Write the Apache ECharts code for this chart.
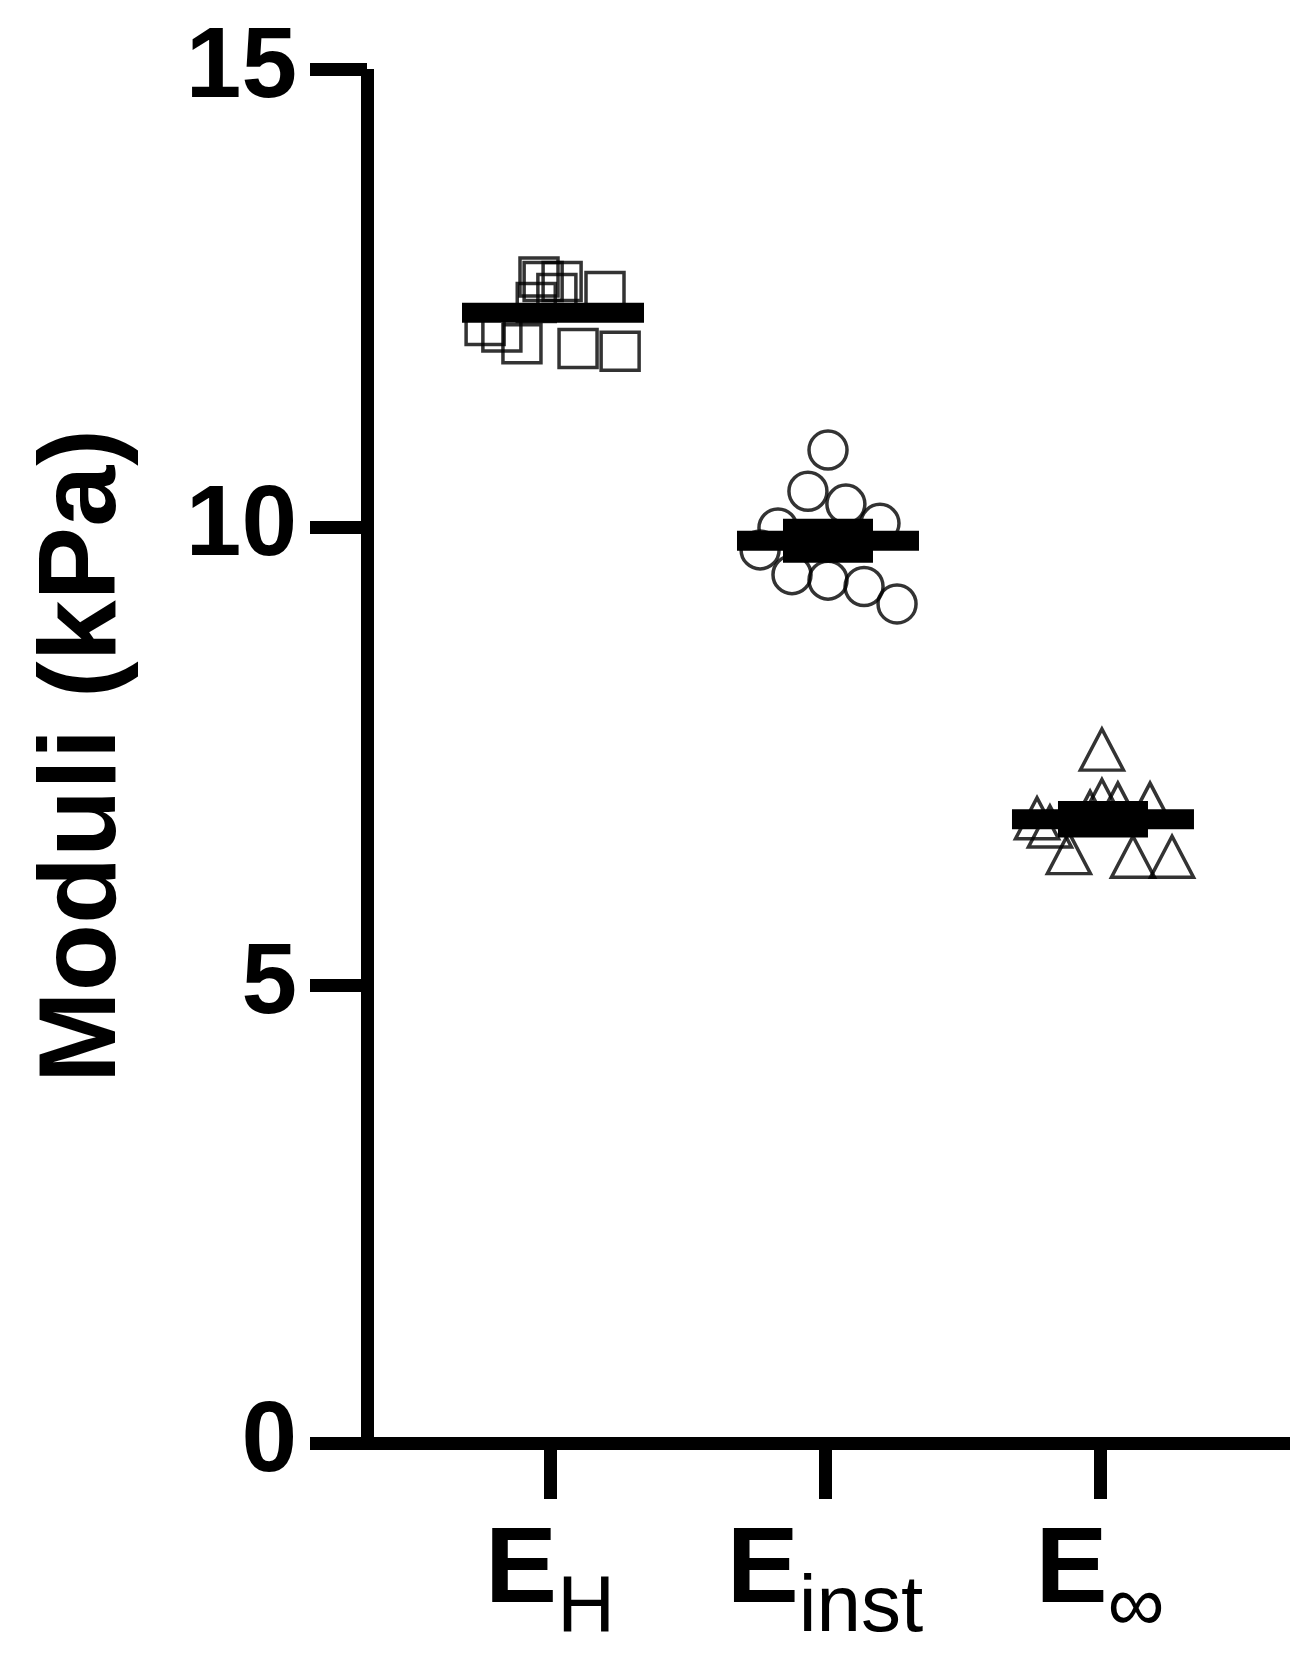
<!DOCTYPE html>
<html><head><meta charset="utf-8">
<script src="https://cdn.jsdelivr.net/npm/echarts@6/dist/echarts.min.js"></script>
<style>html,body{margin:0;padding:0;background:#fff}#c{width:1314px;height:1667px}</style>
</head><body><div id="c"></div>
<script>
// ---- data ----
const categoryPos = [1, 2, 3];
const categoryMain = ['E', 'E', 'E'];
const categorySub = ['H', 'inst', '\u221E'];
const yTicks = [0, 5, 10, 15];

// E_H (squares)
const ehX = [0.975, 1.044, 0.96, 1.025, 1.2, 0.95, 0.764, 0.825, 0.898, 1.102, 1.255];
const ehY = [12.68, 12.68, 12.73, 12.55, 12.57, 12.45, 12.2, 12.13, 12.0, 11.95, 11.92];
// E_inst (circles)
const einstX = [2.011, 1.938, 2.076, 2.2, 1.829, 1.764, 1.88, 2.011, 2.142, 2.262];
const einstY = [10.84, 10.39, 10.25, 10.04, 9.99, 9.75, 9.48, 9.42, 9.35, 9.16];
// E_inf (triangles)
const einfX = [3.007, 3.007, 3.065, 3.182, 2.771, 2.818, 2.964, 2.887, 3.12, 3.262];
const einfY = [7.57, 7.02, 6.98, 6.98, 6.82, 6.73, 6.89, 6.44, 6.40, 6.40];

// group means and error (SEM)
const groupMeans = [12.34, 9.85, 6.81];
const groupErr = [0.1, 0.24, 0.2];

// ---- chart ----
const pairs = (xs, ys) => xs.map((x, i) => [x, ys[i]]);
const FONT = '"Liberation Sans", Arial, sans-serif';
const chart = echarts.init(document.getElementById('c'), null, {renderer: 'canvas'});

const ptStyle = {color: 'rgba(0,0,0,0)', borderColor: '#000', borderWidth: 3.5};

chart.setOption({
  animation: false,
  backgroundColor: '#fff',
  grid: {left: 367, right: 24, top: 69, bottom: 224, containLabel: false},
  xAxis: {
    type: 'value', min: 0.3345, max: 3.691,
    splitLine: {show: false},
    axisLine: {show: true, onZero: false, lineStyle: {color: '#000', width: 13, cap: 'butt'}},
    axisTick: {show: true, customValues: categoryPos, length: 56, lineStyle: {color: '#000', width: 13, cap: 'butt'}},
    axisLabel: {
      show: true, customValues: categoryPos, margin: 75,
      formatter: function (v) {
        const i = categoryPos.indexOf(Math.round(v));
        if (i < 0) return '';
        return '{e|' + categoryMain[i] + '}{s|' + categorySub[i] + '}';
      },
      rich: {
        e: {fontFamily: FONT, fontSize: 108, fontWeight: 'bold', color: '#000', lineHeight: 108, verticalAlign: 'top'},
        s: {fontFamily: FONT, fontSize: 80, fontWeight: 'normal', color: '#000', lineHeight: 80, verticalAlign: 'top', padding: [51, 0, 0, 0]}
      }
    }
  },
  yAxis: {
    type: 'value', min: 0, max: 15, interval: 5,
    splitLine: {show: false},
    axisLine: {show: true, lineStyle: {color: '#000', width: 13, cap: 'butt'}},
    axisTick: {show: true, length: 57, lineStyle: {color: '#000', width: 13, cap: 'butt'}},
    axisLabel: {
      margin: 70, color: '#000', fontFamily: FONT, fontSize: 100, fontWeight: 'bold',
      formatter: function (v) { return yTicks.indexOf(v) >= 0 ? String(v) : ''; }
    },
    name: 'Moduli (kPa)', nameLocation: 'middle', nameGap: 227,
    nameTextStyle: {color: '#000', fontFamily: FONT, fontSize: 110, fontWeight: 'bold'}
  },
  series: [
    {type: 'scatter', symbol: 'rect', symbolSize: 38, data: pairs(ehX, ehY), itemStyle: ptStyle, z: 2},
    {type: 'scatter', symbol: 'circle', symbolSize: 38, data: pairs(einstX, einstY), itemStyle: ptStyle, z: 2},
    {type: 'scatter', symbol: 'triangle', symbolSize: [43, 41], data: pairs(einfX, einfY), itemStyle: ptStyle, z: 2},
    {
      type: 'custom', z: 5,
      data: categoryPos.map((x, i) => [x, groupMeans[i], groupErr[i]]),
      renderItem: function (params, api) {
        const x = api.value(0), m = api.value(1), e = api.value(2);
        const c = api.coord([x, m]);
        const top = api.coord([x, m + e]);
        const bot = api.coord([x, m - e]);
        const meanW = 182, meanH = 20, capW = 90;
        return {
          type: 'group',
          children: [
            {type: 'rect', shape: {x: c[0] - meanW / 2 + 3, y: c[1] - meanH / 2, width: meanW, height: meanH}, style: {fill: '#000'}},
            {type: 'rect', shape: {x: c[0] - capW / 2 + 3, y: top[1], width: capW, height: bot[1] - top[1]}, style: {fill: '#000'}}
          ]
        };
      }
    }
  ]
});
</script>
</body></html>
